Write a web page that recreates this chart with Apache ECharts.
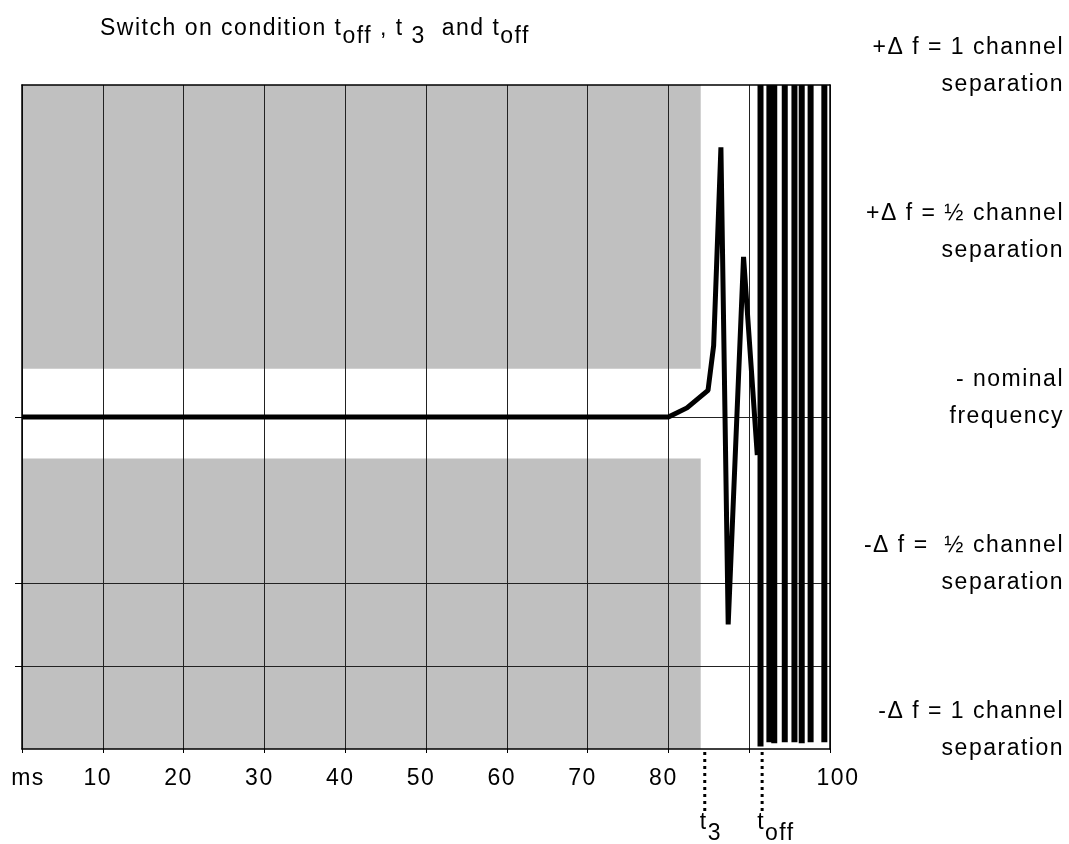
<!DOCTYPE html>
<html>
<head>
<meta charset="utf-8">
<script src="https://cdn.jsdelivr.net/npm/echarts@6/dist/echarts.min.js"></script>
<style>
html,body{margin:0;padding:0;background:#fff;}
#chart{width:1069px;height:844px;}
</style>
</head>
<body>
<div id="chart"></div>
<script>
// Wide letter spacing like the reference typeface (applied to every canvas text draw + measure)
(function () {
  var proto = CanvasRenderingContext2D.prototype;
  var d = Object.getOwnPropertyDescriptor(proto, 'font');
  if (d && d.set && ('letterSpacing' in proto)) {
    Object.defineProperty(proto, 'font', {
      configurable: true,
      enumerable: d.enumerable,
      get: function () { return d.get.call(this); },
      set: function (v) { d.set.call(this, v); this.letterSpacing = '1.5px'; }
    });
  }
})();

// ---------------- DATA ----------------
// x-axis tick labels (ms)
const xLabelValues = [0, 10, 20, 30, 40, 50, 60, 70, 80, 90, 100];
const xLabelTexts  = ['ms', '10', '20', '30', '40', '50', '60', '70', '80', '', '100'];

// frequency deviation trace (x in ms, y in deviation units; ±4 = ±1 channel separation)
const signalMs = [0, 80, 82.3, 84.9, 85.6, 86.5, 87.4, 89.3, 91.0];
const signalDf = [0, 0, 0.11, 0.32, 0.86, 3.25, -2.5, 1.93, -0.46];

// rapid full-scale oscillation after t_off (vertical strokes)
const burstMs   = [91.4, 92.5, 93.1, 94.4, 95.6, 96.5, 97.6, 99.3];
const burstHigh = [4, 4, 4, 4, 4, 4, 4, 4];
const burstLow  = [-3.97, -3.92, -3.93, -3.92, -3.92, -3.93, -3.92, -3.92];

// grey mask bands: [msStart, msEnd, dfLow, dfHigh]
const bandUpper = [0, 84, 0.58, 4];
const bandLower = [0, 84, -4, -0.5];

// time markers below the axis
const markerNames = ['3', 'off'];
const markerMs    = [84.5, 91.6];

// right-hand level labels
const levelValues = [4, 2, 0, -2, -4];
const levelTexts  = [
  '+\u0394 f = 1 channel\nseparation',
  '+\u0394 f = \u00bd channel\nseparation',
  '- nominal\nfrequency',
  '-\u0394 f =  \u00bd channel\nseparation',
  '-\u0394 f = 1 channel\nseparation'
];

// ---------------- CHART ----------------
const FONT = '"Liberation Sans", Arial, Helvetica, sans-serif';
const FS = 23;
const chart = echarts.init(document.getElementById('chart'), null, { renderer: 'canvas' });

const signalData = signalMs.map((x, i) => [x, signalDf[i]]);
const burstData = [];
burstMs.forEach((x, i) => {
  burstData.push([x, burstHigh[i]]);
  burstData.push([x, burstLow[i]]);
  burstData.push([x, '-']);
});

const frameLine = { show: true, onZero: false, lineStyle: { color: '#000', width: 1.5 } };
const gridLine = { show: true, lineStyle: { color: '#222', width: 1 } };
const rs = (extra) => Object.assign({ fontFamily: FONT, fontSize: FS, color: '#000' }, extra || {});

const option = {
  animation: false,
  backgroundColor: '#fff',
  textStyle: { fontFamily: FONT, color: '#000' },
  title: {
    text: '{m|Switch on condition t}{s|off}{m| , t }{s|3}{m|  and t}{s|off}',
    left: 100,
    top: 14,
    padding: 0,
    textStyle: {
      fontWeight: 'normal',
      rich: {
        m: rs({ lineHeight: 30 }),
        s: rs({ lineHeight: 30, padding: [16, 0, 0, 0] })
      }
    }
  },
  grid: { left: 22, top: 85, width: 808, height: 664, show: false, outerBoundsMode: 'none', containLabel: false },
  xAxis: [
    {
      type: 'value', min: 0, max: 100, interval: 10, z: 1,
      axisLine: frameLine,
      axisTick: { show: true, length: 4, lineStyle: { color: '#000' } },
      splitLine: gridLine,
      axisLabel: {
        show: true, margin: 17, showMinLabel: true, showMaxLabel: true,
        fontFamily: FONT, fontSize: FS, color: '#000',
        formatter: function (v) {
          const i = xLabelValues.indexOf(v);
          const t = i >= 0 ? xLabelTexts[i] : '';
          if (!t) return '';
          if (v === xLabelValues[0]) return '{a|' + t + '}';
          if (v === xLabelValues[xLabelValues.length - 1]) return '{c|' + t + '}';
          return '{b|' + t + '}';
        },
        rich: {
          a: rs({ padding: [0, 0, 0, 12] }),
          b: rs({ padding: [0, 10, 0, 0] }),
          c: rs({ padding: [0, 0, 0, 16] })
        }
      }
    },
    {
      type: 'value', position: 'top', min: 0, max: 100, z: 1,
      axisLine: { show: true, onZero: false, lineStyle: { color: '#000', width: 1.5 } },
      axisTick: { show: false }, axisLabel: { show: false }, splitLine: { show: false }
    }
  ],
  yAxis: [
    {
      type: 'value', min: -4, max: 4, interval: 1, z: 1,
      axisLine: frameLine,
      axisTick: { show: true, length: 7, customValues: [0, -2, -3], lineStyle: { color: '#000' } },
      axisLabel: { show: false },
      splitLine: gridLine
    },
    {
      type: 'value', position: 'right', min: -4, max: 4, z: 1,
      axisLine: { show: true, onZero: false, lineStyle: { color: '#000', width: 1.5 } },
      axisTick: { show: false }, axisLabel: { show: false }, splitLine: { show: false }
    }
  ],
  series: [
    {
      type: 'custom', name: 'mask', z: 0, silent: true, clip: false,
      xAxisIndex: 0, yAxisIndex: 0,
      encode: { x: [0, 1], y: [2, 3] },
      data: [bandUpper, bandLower],
      renderItem: function (params, api) {
        const p0 = api.coord([api.value(0), api.value(3)]);
        const p1 = api.coord([api.value(1), api.value(2)]);
        return {
          type: 'rect',
          shape: { x: p0[0], y: p0[1], width: p1[0] - p0[0], height: p1[1] - p0[1] },
          style: { fill: '#c0c0c0' }
        };
      }
    },
    {
      type: 'line', name: 'signal', z: 3, xAxisIndex: 0, yAxisIndex: 0,
      data: signalData, symbol: 'none', silent: true,
      lineStyle: { color: '#000', width: 5 }
    },
    {
      type: 'line', name: 'burst', z: 3, xAxisIndex: 0, yAxisIndex: 0,
      data: burstData, symbol: 'none', silent: true, connectNulls: false,
      lineStyle: { color: '#000', width: 6, cap: 'butt' }
    }
  ]
};

chart.setOption(option);

// ---- annotations placed through the chart's own scales ----
const px = (x, y) => chart.convertToPixel({ gridIndex: 0 }, [x, y]);
const bottomY = px(0, -4)[1];
const rightX = 1064;
const graphics = [];

markerMs.forEach((ms, i) => {
  const x = px(ms, -4)[0];
  graphics.push({
    type: 'line', silent: true,
    shape: { x1: x, y1: bottomY + 3, x2: x, y2: bottomY + 64 },
    style: { stroke: '#000', lineWidth: 3, lineDash: [3, 4] }
  });
  graphics.push({
    type: 'text', silent: true, x: x - 5, y: bottomY + 59,
    style: {
      text: '{m|t}{s|' + markerNames[i] + '}',
      align: 'left', verticalAlign: 'top', textAlign: 'left', textVerticalAlign: 'top',
      rich: {
        m: { fontFamily: FONT, fontSize: FS, fill: '#000', lineHeight: 30 },
        s: { fontFamily: FONT, fontSize: FS, fill: '#000', lineHeight: 30, padding: [22, 0, 0, 0] }
      }
    }
  });
});

levelValues.forEach((v, i) => {
  const y = px(0, v)[1];
  graphics.push({
    type: 'text', silent: true, x: rightX, y: y + 18.5,
    style: {
      text: levelTexts[i],
      font: FS + 'px ' + FONT,
      fill: '#000',
      lineHeight: 37,
      align: 'right', verticalAlign: 'bottom',
      textAlign: 'right', textVerticalAlign: 'bottom'
    }
  });
});

chart.setOption({ graphic: { elements: graphics } });
</script>
</body>
</html>
